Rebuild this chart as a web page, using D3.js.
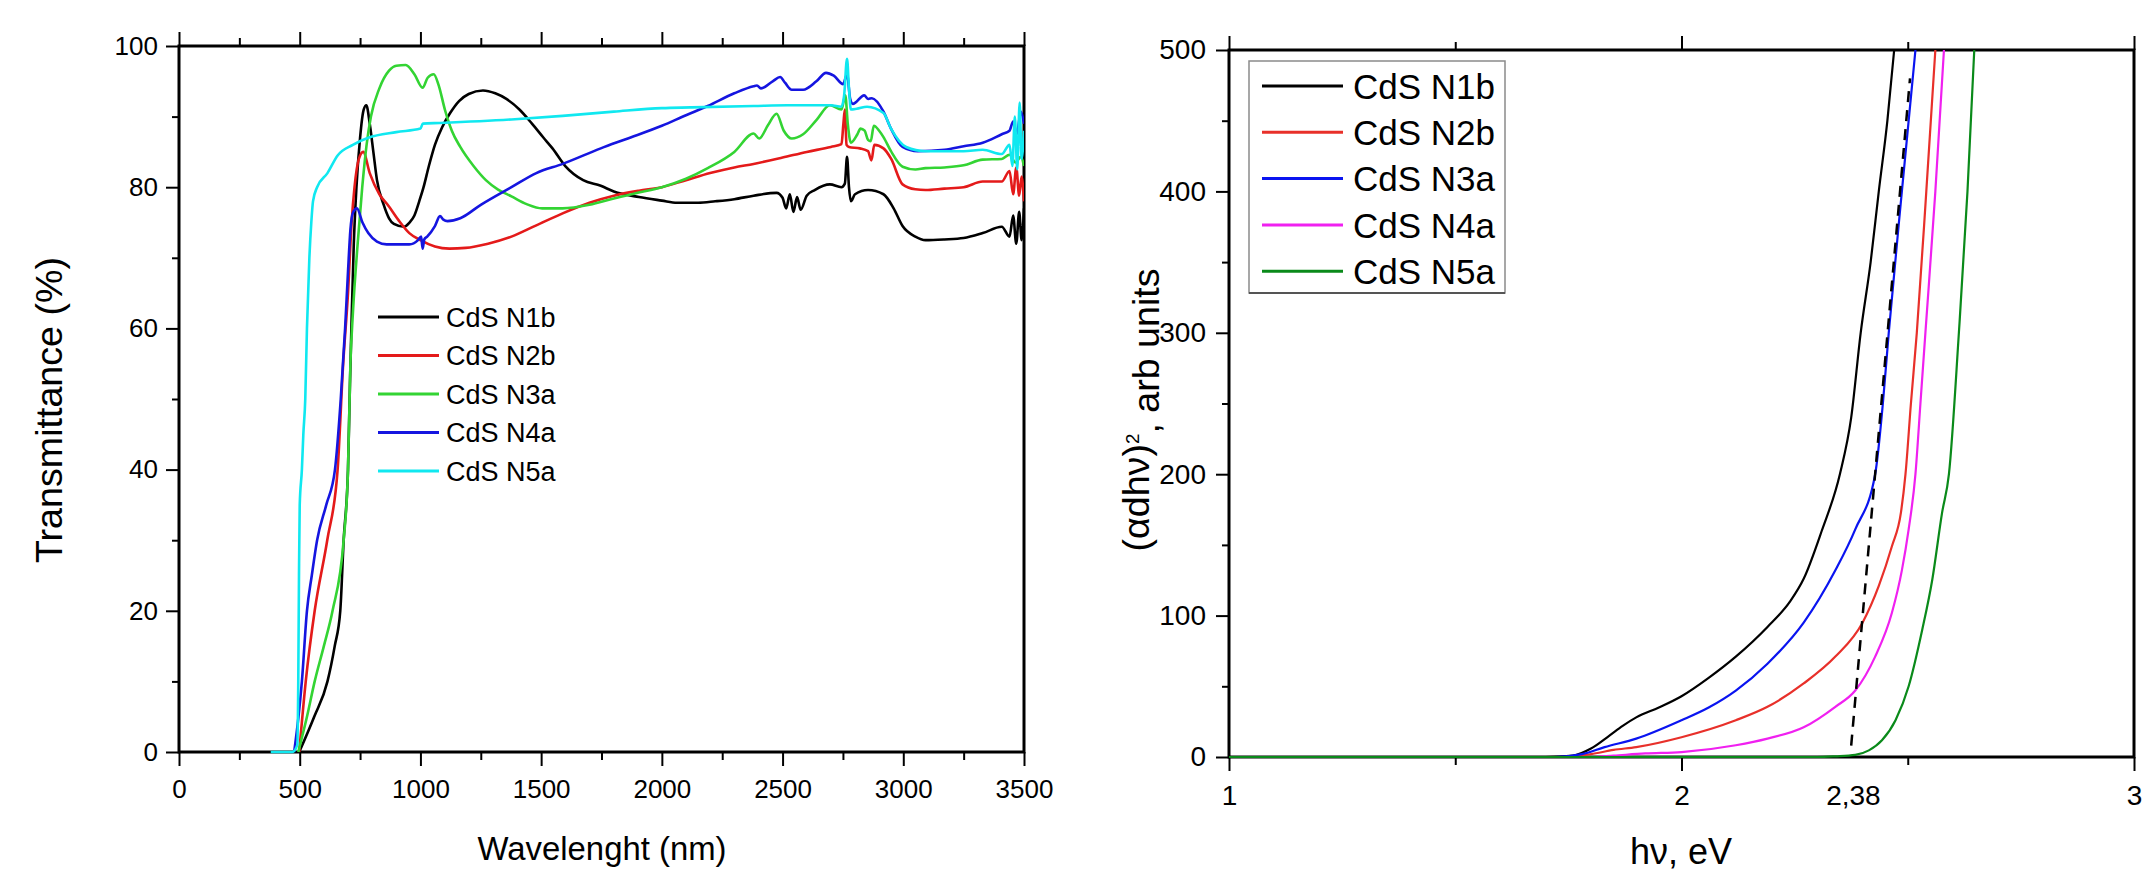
<!DOCTYPE html>
<html>
<head>
<meta charset="utf-8">
<script src="https://cdn.jsdelivr.net/npm/d3@7"></script>
<style>
  body { margin: 0; background: #fff; }
  svg { display: block; font-family: "Liberation Sans", Arial, sans-serif; }
  .axis path, .axis line { stroke: #000; }
  .axis text { fill: #000; }
</style>
</head>
<body>
<svg id="chart" width="2148" height="879"></svg>
<script>
// ---- left panel: transmittance (wavelength nm, %) ----
const seriesNames = ["CdS N1b", "CdS N2b", "CdS N3a", "CdS N4a", "CdS N5a"];
const transColors = ["#000000", "#e41a1a", "#33d433", "#1515e0", "#10e8f0"];
const absColors   = ["#000000", "#e8302a", "#0a14f0", "#f020f0", "#0a8a1a"];

const n1bT = [[498,0],[560,5],[615,10],[645,15],[668,20],[682,30],[700,40],[708,52],[714,60],[724,72],[735,80],[750,87],[765,91],[776,91.6],[790,89],[805,85],[820,81],[848,77.5],[870,75.6],[890,74.8],[932,74.4],[955,75],[975,76],[995,78],[1013,80],[1035,83],[1060,86],[1090,88.5],[1123,90.5],[1160,92.2],[1200,93.2],[1259,93.7],[1310,93.3],[1356,92.5],[1410,91],[1462,89],[1510,87],[1547,85.5],[1600,83],[1674,81],[1747,80.2],[1801,79.4],[1905,78.6],[2000,78.1],[2063,77.8],[2150,77.8],[2221,78],[2300,78.3],[2380,78.8],[2475,79.2],[2500,78.5],[2515,77],[2530,79],[2545,76.5],[2560,78.6],[2575,76.8],[2600,78.8],[2633,79.6],[2696,80.4],[2744,80],[2758,80.5],[2767,84.3],[2775,80],[2783,78],[2800,79],[2854,79.6],[2918,79],[2960,77],[2997,74.5],[3050,73],[3092,72.5],[3170,72.6],[3250,72.8],[3329,73.5],[3408,74.4],[3440,73],[3455,76],[3468,72],[3480,76.5],[3490,72.5],[3500,77]];
const n2bT = [[498,0],[525,10],[562,20],[614,30],[657,40],[680,55],[700,65],[715,75],[727,80],[745,84],[763,85],[790,82],[830,79],[869,77.3],[910,75.3],[954,73.5],[1000,72.5],[1060,71.6],[1120,71.3],[1187,71.4],[1280,72],[1377,73],[1480,74.6],[1589,76.3],[1700,77.8],[1801,78.8],[1905,79.5],[2000,80],[2100,81],[2200,82],[2300,82.8],[2380,83.3],[2500,84.2],[2600,85],[2700,85.7],[2744,86.1],[2752,89],[2758,91],[2765,86],[2775,85.7],[2820,85.5],[2854,85.1],[2868,83.8],[2880,86],[2918,85.5],[2950,84],[2997,80.4],[3050,79.7],[3092,79.6],[3170,79.8],[3250,80],[3329,80.8],[3408,80.8],[3440,82.3],[3455,79],[3468,82.8],[3480,78.8],[3490,81.5],[3500,78]];
const n3aT = [[494,0],[530,5],[562,10],[600,15],[636,20],[682,30],[700,40],[710,55],[720,62],[740,72],[759,80],[777,86],[795,90],[830,94],[870,96.5],[900,97.2],[939,97.3],[975,96],[1009,94.1],[1030,95.5],[1055,96],[1075,94.5],[1102,90.9],[1130,88],[1165,85.7],[1220,83],[1271,81],[1320,79.7],[1377,78.7],[1440,77.6],[1504,77],[1589,77],[1700,77.5],[1801,78.4],[1900,79.2],[2000,80],[2100,81.2],[2190,82.7],[2300,85],[2380,87.6],[2403,86.9],[2440,88.8],[2475,90.4],[2505,88],[2538,86.9],[2585,87.5],[2640,89.5],[2696,91.6],[2744,91],[2760,93],[2770,89],[2783,86.3],[2810,87.5],[2823,88.3],[2840,88],[2854,86.7],[2865,86.5],[2878,88.7],[2900,88],[2918,87.1],[2949,85.1],[2997,82.9],[3050,82.5],[3092,82.7],[3170,82.8],[3250,83.1],[3329,83.9],[3408,84],[3440,84.6],[3465,83.5],[3487,84.3],[3500,83]];
const n4aT = [[477,0],[495,5],[509,10],[530,20],[550,25],[572,30],[610,35],[646,40],[670,50],[688,60],[700,68],[710,74],[722,76.5],[737,77],[760,75],[784,73.5],[820,72.3],[860,71.9],[954,71.9],[990,72.5],[1003,73],[1009,71.3],[1016,72.6],[1028,73],[1060,74.5],[1081,75.9],[1095,75.4],[1112,75.2],[1165,75.6],[1250,77.5],[1377,80],[1480,82],[1589,83.3],[1747,85.5],[1850,86.8],[2000,88.7],[2100,90.2],[2190,91.5],[2300,93.3],[2380,94.3],[2394,94.4],[2410,94],[2459,95],[2490,95.6],[2510,94.8],[2538,93.8],[2585,93.8],[2640,95],[2680,96.2],[2712,95.8],[2751,94.6],[2767,96],[2780,92.5],[2791,91.8],[2838,93],[2855,92.5],[2870,92.6],[2918,90.7],[2949,88.3],[2997,85.7],[3060,85.1],[3171,85.3],[3250,85.8],[3329,86.3],[3408,87.5],[3440,88],[3455,89.3],[3470,87.5],[3487,90.7],[3500,89]];
const n5aT = [[380,0],[470,0],[490,1],[494,10],[497,25],[500,35],[509,40],[515,45],[523,50],[530,60],[540,70],[548,75],[555,78],[572,80],[615,82],[657,84.5],[720,86],[784,87],[900,87.8],[1000,88.3],[1010,89],[1081,89.1],[1377,89.6],[1589,90.1],[1801,90.7],[2000,91.2],[2119,91.3],[2380,91.5],[2521,91.6],[2700,91.6],[2744,91.4],[2755,93],[2767,98.2],[2775,94],[2783,91],[2807,91.1],[2850,91.4],[2918,90.5],[2949,88.3],[3012,85.7],[3092,85.1],[3250,85.1],[3329,85.3],[3408,84.7],[3440,86],[3452,83],[3462,90],[3472,82.5],[3482,92],[3490,84],[3500,88]];

const xTransTicks = [0, 500, 1000, 1500, 2000, 2500, 3000, 3500];
const xTransMinor = [250, 750, 1250, 1750, 2250, 2750, 3250];
const yTransTicks = [0, 20, 40, 60, 80, 100];
const yTransMinor = [10, 30, 50, 70, 90];

// ---- right panel: (alpha d h nu)^2 vs photon energy ----
const n1bA = [[1,0],[1.70,0],[1.76,1],[1.80,6],[1.84,15],[1.87,22],[1.90,28],[1.95,35],[2.0,43],[2.06,56],[2.12,71],[2.19,92],[2.24,110],[2.27,126],[2.31,160],[2.35,200],[2.375,240],[2.396,300],[2.418,350],[2.436,400],[2.455,450],[2.47,500]];
const n2bA = [[1,0],[1.74,0],[1.80,2],[1.85,5],[1.90,7],[2.0,14],[2.12,26],[2.19,35.5],[2.27,52],[2.34,71],[2.40,95],[2.436,121],[2.465,149],[2.485,173],[2.495,200],[2.507,250],[2.52,300],[2.541,400],[2.561,500]];
const n3aA = [[1,0],[1.72,0],[1.78,2],[1.83,7],[1.90,13],[2.0,26],[2.06,35],[2.12,47],[2.19,66],[2.27,95],[2.34,132],[2.384,161],[2.428,200],[2.445,250],[2.458,300],[2.487,400],[2.517,500]];
const n4aA = [[1,0],[1.80,0],[1.85,1],[1.92,2.5],[2.0,3.5],[2.12,8.3],[2.19,13],[2.27,21],[2.34,35.5],[2.384,47],[2.428,71],[2.465,102],[2.487,132],[2.502,161],[2.517,200],[2.528,250],[2.539,300],[2.561,400],[2.58,500]];
const n5aA = [[1,0],[2.30,0],[2.34,0.5],[2.384,1.5],[2.414,4.7],[2.443,11.8],[2.473,26],[2.502,50],[2.532,90],[2.554,125],[2.576,173],[2.591,200],[2.613,300],[2.632,400],[2.647,500]];
const gapLine = [[2.375, 8], [2.505, 480]];

const xAbsTicks = [1, 2, 3];
const xAbsMinor = [1.5, 2.5];
const gapLabel = 2.38;
const yAbsTicks = [0, 100, 200, 300, 400, 500];
const yAbsMinor = [50, 150, 250, 350, 450];

const svg = d3.select("#chart");

function frame(x, y, o) {
  const g = svg.append("g").attr("class", "axis");
  const [x0, x1] = x.range();
  const [y0, y1] = y.range(); // y0 bottom, y1 top

  const ax = (gen, tr, size, vals, fmt, pad) => {
    const a = g.append("g").attr("transform", tr)
      .call(gen.tickValues(vals).tickSize(size).tickSizeOuter(0).tickPadding(pad || 0).tickFormat(fmt || ""));
    a.select(".domain").remove();
    a.selectAll("line").attr("stroke-width", 2);
    return a;
  };

  const bx = ax(d3.axisBottom(x), `translate(0,${y0})`, 14, o.xTicks, o.xFmt, o.xPad);
  bx.selectAll("text").style("font-size", o.tickFont + "px");
  ax(d3.axisBottom(x), `translate(0,${y0})`, 8, o.xMinor);
  ax(d3.axisTop(x), `translate(0,${y1})`, 14, o.xTicks);
  ax(d3.axisTop(x), `translate(0,${y1})`, 8, o.xMinor);
  const ly = ax(d3.axisLeft(y), `translate(${x0},0)`, 13, o.yTicks, d3.format("d"), o.yPad);
  ly.selectAll("text").style("font-size", o.tickFont + "px");
  ax(d3.axisLeft(y), `translate(${x0},0)`, 7, o.yMinor);

  g.append("rect")
    .attr("x", x0).attr("y", y1)
    .attr("width", x1 - x0).attr("height", y0 - y1)
    .attr("fill", "none").attr("stroke", "#000").attr("stroke-width", 3);
  return g;
}

function curves(x, y, list, colors, width, clipId) {
  const [x0, x1] = x.range();
  const [y0, y1] = y.range();
  svg.append("clipPath").attr("id", clipId)
    .append("rect").attr("x", x0).attr("y", y1 - 2).attr("width", x1 - x0).attr("height", y0 - y1 + 4);
  const line = d3.line().curve(d3.curveMonotoneX).x(d => x(d[0])).y(d => y(d[1]));
  const g = svg.append("g").attr("clip-path", `url(#${clipId})`);
  list.forEach((pts, i) => {
    g.append("path").attr("d", line(pts))
      .attr("fill", "none").attr("stroke", colors[i])
      .attr("stroke-width", width).attr("stroke-linejoin", "round");
  });
  return g;
}

// ---------- left ----------
const xT = d3.scaleLinear().domain([0, 3500]).range([179, 1024]);
const yT = d3.scaleLinear().domain([0, 100]).range([752, 46]);

frame(xT, yT, {
  xTicks: xTransTicks, xMinor: xTransMinor, yTicks: yTransTicks, yMinor: yTransMinor,
  xFmt: d3.format("d"), xPad: 14, yPad: 8, tickFont: 26
});
curves(xT, yT, [n1bT, n2bT, n3aT, n4aT, n5aT], transColors, 2.6, "clipT");

svg.append("text")
  .attr("transform", "translate(62,410) rotate(-90)")
  .attr("text-anchor", "middle")
  .attr("textLength", 306).attr("lengthAdjust", "spacingAndGlyphs")
  .style("font-size", "36px")
  .text("Transmittance (%)");

svg.append("text")
  .attr("x", 602).attr("y", 860)
  .attr("text-anchor", "middle")
  .attr("textLength", 249).attr("lengthAdjust", "spacingAndGlyphs")
  .style("font-size", "34px")
  .text("Wavelenght (nm)");

const legT = svg.append("g");
seriesNames.forEach((name, i) => {
  const yy = 317 + i * 38.5;
  legT.append("line").attr("x1", 378).attr("x2", 439).attr("y1", yy).attr("y2", yy)
    .attr("stroke", transColors[i]).attr("stroke-width", 3);
  legT.append("text").attr("x", 446).attr("y", yy).attr("dy", "0.36em")
    .style("font-size", "27px").text(name);
});

// ---------- right ----------
const xA = d3.scaleLinear().domain([1, 3]).range([1229, 2134]);
const yA = d3.scaleLinear().domain([0, 500]).range([757, 50]);

const fA = frame(xA, yA, {
  xTicks: xAbsTicks, xMinor: xAbsMinor, yTicks: yAbsTicks, yMinor: yAbsMinor,
  xFmt: d3.format("d"), xPad: 14, yPad: 10, tickFont: 28
});
fA.append("text")
  .attr("x", xA(gapLabel)).attr("y", yA(0) + 28).attr("dy", "0.71em")
  .attr("text-anchor", "middle").style("font-size", "28px")
  .text(String(gapLabel).replace(".", ","));

const gA = curves(xA, yA, [n1bA, n2bA, n3aA, n4aA, n5aA], absColors, 2.2, "clipA");
gA.append("path")
  .attr("d", d3.line().x(d => xA(d[0])).y(d => yA(d[1]))(gapLine))
  .attr("fill", "none").attr("stroke", "#000")
  .attr("stroke-width", 2.5).attr("stroke-dasharray", "11,8");

const yTitle = svg.append("text")
  .attr("transform", "translate(1149,410) rotate(-90)")
  .attr("text-anchor", "middle")
  .attr("textLength", 283).attr("lengthAdjust", "spacingAndGlyphs")
  .style("font-size", "36px");
yTitle.append("tspan").text("(\u03B1dh\u03BD)");
yTitle.append("tspan").attr("dy", "-0.55em").style("font-size", "18px").text("2");
yTitle.append("tspan").attr("dy", "0.55em").text(", arb units");

svg.append("text")
  .attr("x", 1681).attr("y", 864)
  .attr("text-anchor", "middle")
  .style("font-size", "36px")
  .text("h\u03BD, eV");

const legA = svg.append("g");
legA.append("rect").attr("x", 1249).attr("y", 61).attr("width", 256).attr("height", 232)
  .attr("fill", "#fff").attr("stroke", "#8a8a8a").attr("stroke-width", 1.5);
legA.append("line").attr("x1", 1249).attr("x2", 1505).attr("y1", 293).attr("y2", 293)
  .attr("stroke", "#555").attr("stroke-width", 2);
seriesNames.forEach((name, i) => {
  const yy = 86 + i * 46.3;
  legA.append("line").attr("x1", 1262).attr("x2", 1343).attr("y1", yy).attr("y2", yy)
    .attr("stroke", absColors[i]).attr("stroke-width", 3);
  legA.append("text").attr("x", 1353).attr("y", yy).attr("dy", "0.36em")
    .style("font-size", "35px").text(name);
});
</script>
</body>
</html>
